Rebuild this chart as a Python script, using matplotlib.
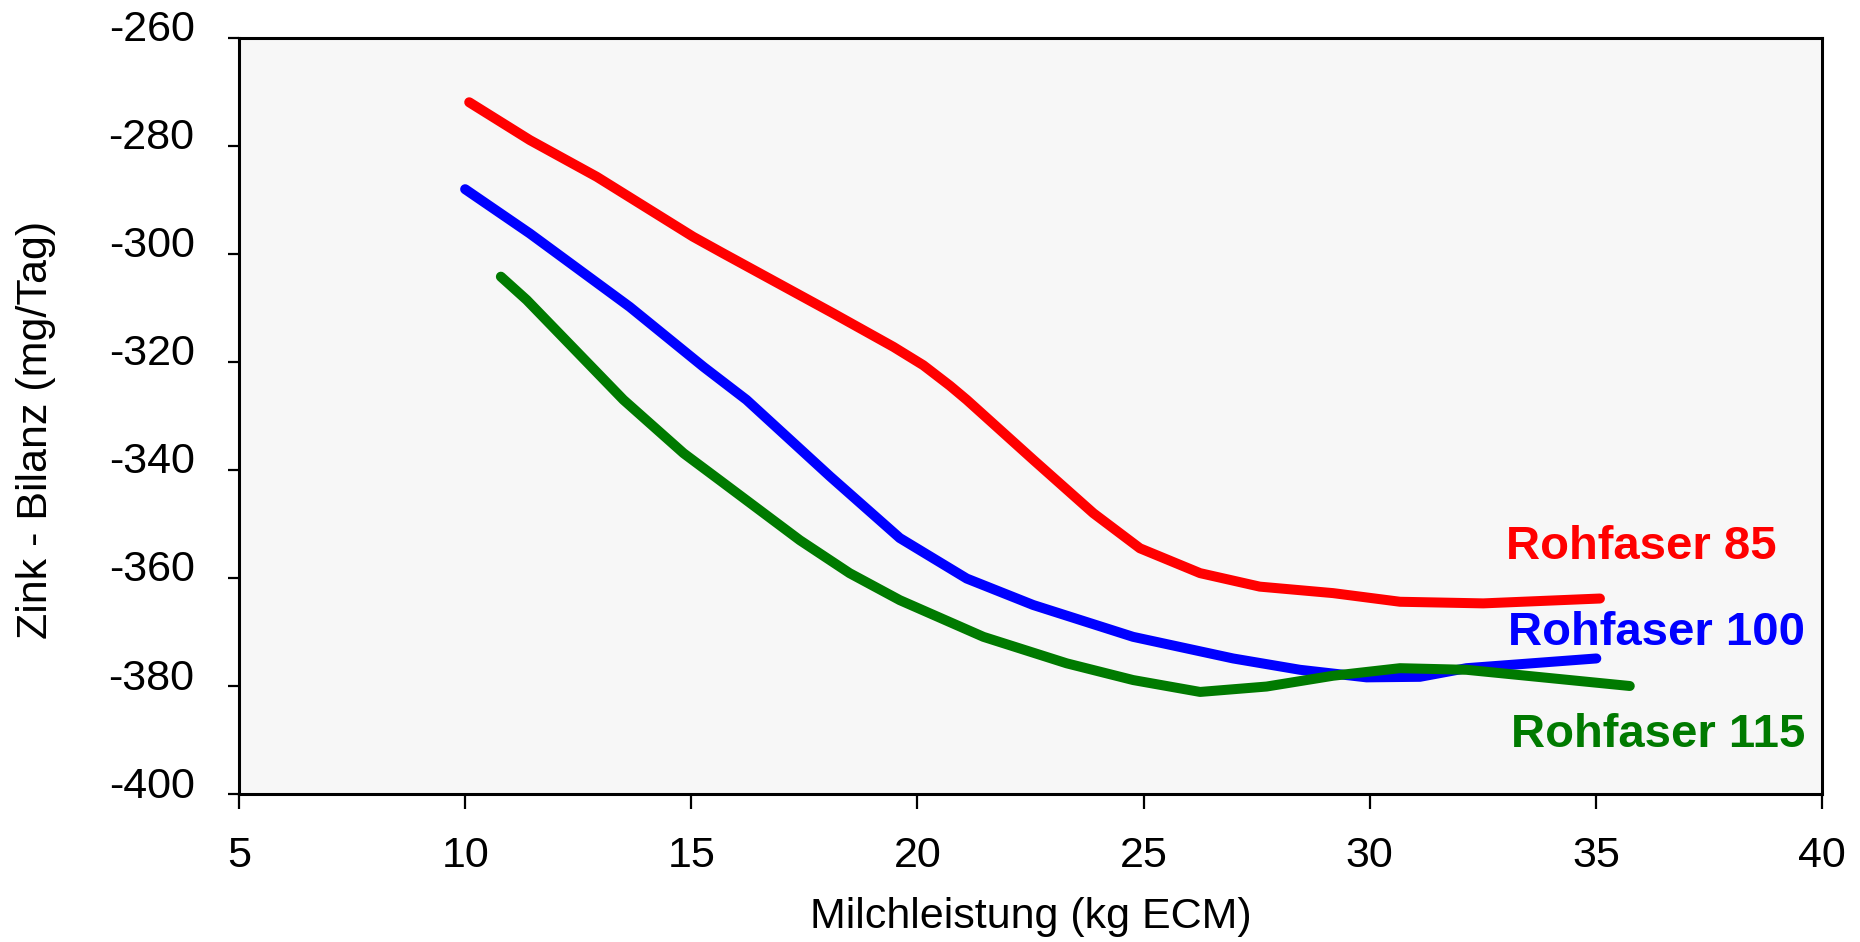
import matplotlib
matplotlib.use("Agg")
import matplotlib.pyplot as plt
import matplotlib.transforms as mtransforms

plt.rcParams['font.family'] = ['Liberation Sans', 'DejaVu Sans']

# Data
x_85 = [10.09, 11.43, 12.91, 15.04, 15.71, 18.14, 19.47, 20.13, 20.72, 21.09, 22.56, 23.89, 24.92, 26.25, 27.57, 29.19, 30.67, 32.51, 35.09]
y_85 = [-271.9, -278.9, -285.7, -296.8, -299.9, -311.0, -317.2, -320.6, -324.4, -327.0, -338.1, -348.0, -354.5, -359.1, -361.6, -362.8, -364.4, -364.7, -363.8]

x_100 = [10.0, 11.43, 13.64, 15.27, 16.22, 18.07, 19.61, 21.09, 22.56, 24.77, 26.98, 28.46, 29.93, 31.11, 32.14, 35.01]
y_100 = [-288.0, -296.2, -309.8, -320.9, -327.0, -341.2, -352.6, -360.1, -365.0, -370.9, -374.9, -377.0, -378.4, -378.3, -376.7, -374.9]

x_115 = [10.79, 11.36, 13.50, 14.83, 15.63, 17.4, 18.5, 19.61, 21.46, 23.30, 24.77, 26.25, 27.72, 29.19, 30.67, 32.14, 35.75]
y_115 = [-304.2, -308.5, -327.0, -336.9, -341.9, -353.0, -359.1, -364.1, -370.9, -375.8, -378.9, -381.1, -380.1, -378.1, -376.7, -377.0, -380.0]

series_labels = ["Rohfaser 85", "Rohfaser 100", "Rohfaser 115"]
series_colors = ["#ff0000", "#0000ff", "#007a00"]
label_pos = [(33.01, -356.5), (33.06, -372.4), (33.12, -391.3)]

x_ticks = [5, 10, 15, 20, 25, 30, 35, 40]
y_ticks = [-400, -380, -360, -340, -320, -300, -280, -260]

fig = plt.figure(figsize=(18.6, 9.42), dpi=100)
ax = fig.add_axes([239/1860, 1 - 794/942, (1822-239)/1860, (794-38)/942])
ax.set_facecolor("#f7f7f7")

for xs, ys, c in zip([x_85, x_100, x_115], [y_85, y_100, y_115], series_colors):
    ax.plot(xs, ys, color=c, lw=7.2, solid_capstyle='round', solid_joinstyle='round')

for (lx, ly), lab, c in zip(label_pos, series_labels, series_colors):
    ax.text(lx, ly, lab, color=c, fontsize=34, fontweight='bold', ha='left', va='baseline')

ax.set_xlim(5, 40)
ax.set_ylim(-400, -260)
ax.set_xticks(x_ticks)
ax.set_yticks(y_ticks)
ax.set_xticklabels([str(v) for v in x_ticks])
ax.set_yticklabels([str(v) for v in y_ticks])

for s in ax.spines.values():
    s.set_linewidth(2.2)
    s.set_color('black')

ax.tick_params(axis='x', direction='out', length=11, width=1.6, pad=19, labelsize=31)
ax.tick_params(axis='y', direction='out', length=8, width=1.6, pad=24, labelsize=31)

# y tick labels sit slightly above their ticks in the reference
shift_up = mtransforms.ScaledTranslation(0, 12/100, fig.dpi_scale_trans)
for lab in ax.get_yticklabels():
    lab.set_transform(lab.get_transform() + shift_up)

ax.set_xlabel("Milchleistung (kg ECM)", fontsize=31)
ax.set_ylabel("Zink - Bilanz (mg/Tag)", fontsize=31)
ax.xaxis.set_label_coords(0.5, -0.163)
ax.yaxis.set_label_coords(-0.128, 0.481)
ax.xaxis.label.set_va('center')
ax.yaxis.label.set_va('center')

fig.savefig("out.png", dpi=100, facecolor='white')
